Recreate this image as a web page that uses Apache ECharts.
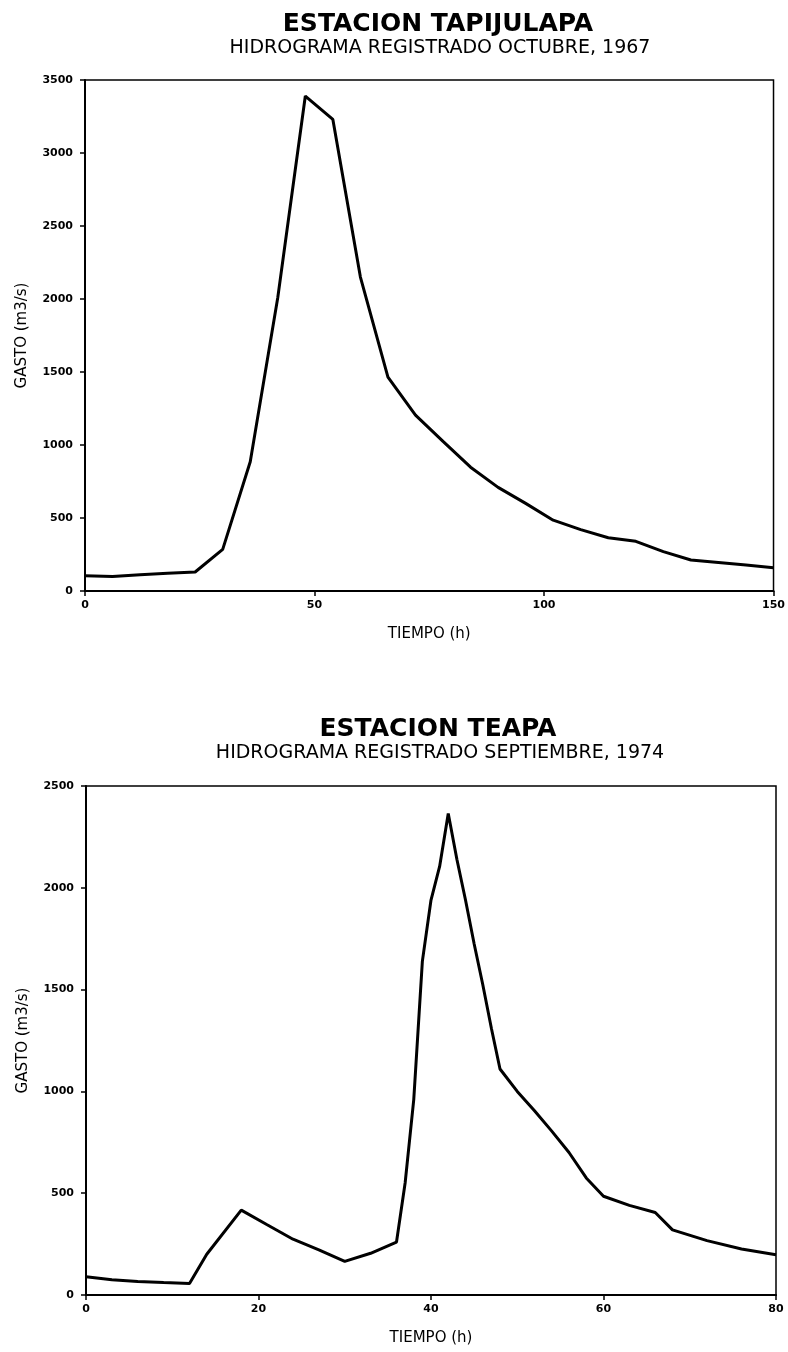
<!DOCTYPE html>
<html>
<head>
<meta charset="utf-8">
<script src="https://cdn.jsdelivr.net/npm/echarts@6/dist/echarts.min.js"></script>
<style>
html,body{margin:0;padding:0;background:#fff;}
#c{width:788px;height:1352px;}
</style>
</head>
<body>
<div id="c"></div>
<script>
// ---- Data: Estacion Tapijulapa (octubre 1967) ----
const tapTime = [0,6,12,18,24,30,36,42,48,54,60,66,72,78,84,90,96,102,108,114,120,126,132,138,144,150];
const tapFlow = [105,100,112,122,130,285,885,2010,3390,3230,2150,1465,1205,1025,848,710,600,485,420,365,340,270,212,195,178,160];
const tapXTicks = [0,50,100,150];
const tapYTicks = [0,500,1000,1500,2000,2500,3000,3500];

// ---- Data: Estacion Teapa (septiembre 1974) ----
const teaTime = [0,3,6,9,12,14,18,21,24,27,30,33,36,37,38,39,40,41,42,43,44,45,46,47,48,50,52,54,56,58,60,63,66,68,72,76,80];
const teaFlow = [90,75,66,61,57,200,417,345,274,222,165,205,260,550,960,1640,1940,2105,2365,2140,1940,1725,1525,1310,1110,1000,905,805,700,575,485,440,405,320,267,226,198];
const teaXTicks = [0,20,40,60,80];
const teaYTicks = [0,500,1000,1500,2000,2500];

// ---- Texts ----
const title1 = 'ESTACION TAPIJULAPA';
const sub1 = 'HIDROGRAMA REGISTRADO OCTUBRE, 1967';
const title2 = 'ESTACION TEAPA';
const sub2 = 'HIDROGRAMA REGISTRADO SEPTIEMBRE, 1974';
const xName = 'TIEMPO (h)';
const yName = 'GASTO (m3/s)';

const FONT = 'DejaVu Sans';
const pair = (xs, ys) => xs.map((x, i) => [x, ys[i]]);
const plain = v => String(v);

function xAxisCfg(ticks, gi) {
  return {
    type: 'value', gridIndex: gi,
    min: ticks[0], max: ticks[ticks.length - 1], interval: ticks[1] - ticks[0],
    name: xName, nameLocation: 'middle', nameGap: 36,
    nameTextStyle: {fontFamily: FONT, fontSize: 15, color: '#000'},
    axisLine: {show: true, onZero: false, lineStyle: {color: '#000', width: 2}},
    axisTick: {show: true, inside: false, length: 5, lineStyle: {color: '#000', width: 1.5}},
    axisLabel: {fontFamily: FONT, fontSize: 11, fontWeight: 'bold', color: '#000', margin: 9, formatter: plain},
    splitLine: {show: false}
  };
}
function yAxisCfg(ticks, gi) {
  return {
    type: 'value', gridIndex: gi,
    min: ticks[0], max: ticks[ticks.length - 1], interval: ticks[1] - ticks[0],
    name: yName, nameLocation: 'middle', nameGap: 55,
    nameTextStyle: {fontFamily: FONT, fontSize: 15, color: '#000'},
    axisLine: {show: true, lineStyle: {color: '#000', width: 2}},
    axisTick: {show: true, inside: false, length: 5, lineStyle: {color: '#000', width: 1.5}},
    axisLabel: {fontFamily: FONT, fontSize: 11, fontWeight: 'bold', color: '#000', margin: 12, formatter: plain},
    splitLine: {show: false}
  };
}

const chart = echarts.init(document.getElementById('c'), null, {renderer: 'canvas'});
chart.setOption({
  backgroundColor: '#fff',
  animation: false,
  title: [
    {text: title1, left: 433, top: 7, textAlign: 'center',
     textStyle: {fontFamily: FONT, fontSize: 25, fontWeight: 'bold', color: '#000'}},
    {text: sub1, left: 435, top: 34, textAlign: 'center',
     textStyle: {fontFamily: FONT, fontSize: 19, fontWeight: 'normal', color: '#000'}},
    {text: title2, left: 433, top: 712, textAlign: 'center',
     textStyle: {fontFamily: FONT, fontSize: 25, fontWeight: 'bold', color: '#000'}},
    {text: sub2, left: 435, top: 739, textAlign: 'center',
     textStyle: {fontFamily: FONT, fontSize: 19, fontWeight: 'normal', color: '#000'}}
  ],
  grid: [
    {left: 85, top: 80, width: 691, height: 511, show: true, borderColor: '#000', borderWidth: 1.5, backgroundColor: 'transparent'},
    {left: 86, top: 786, width: 690, height: 509, show: true, borderColor: '#000', borderWidth: 1.5, backgroundColor: 'transparent'}
  ],
  xAxis: [xAxisCfg(tapXTicks, 0), xAxisCfg(teaXTicks, 1)],
  yAxis: [yAxisCfg(tapYTicks, 0), yAxisCfg(teaYTicks, 1)],
  series: [
    {type: 'line', xAxisIndex: 0, yAxisIndex: 0, data: pair(tapTime, tapFlow),
     showSymbol: false, lineStyle: {color: '#000', width: 3}, smooth: false},
    {type: 'line', xAxisIndex: 1, yAxisIndex: 1, data: pair(teaTime, teaFlow),
     showSymbol: false, lineStyle: {color: '#000', width: 3}, smooth: false}
  ]
});
</script>
</body>
</html>
